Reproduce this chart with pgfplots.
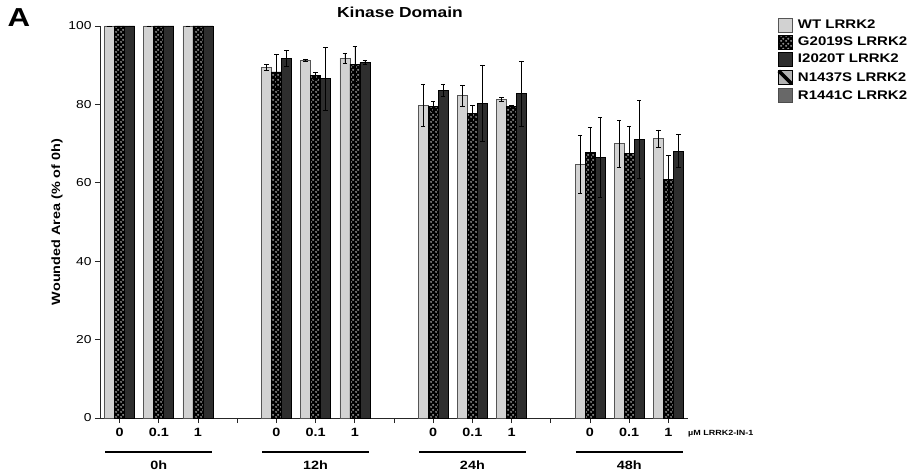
\documentclass[border=0pt]{standalone}
\usepackage{pgfplots}
\pgfplotsset{compat=1.18}
\usepackage{pgfplotstable}
\usepackage{fontspec}
\setmainfont{Liberation Sans}[FakeStretch=1.2]
\usetikzlibrary{patterns.meta}
\definecolor{wtfill}{HTML}{D2D2D2}
\definecolor{wtdraw}{HTML}{555555}
\definecolor{ifill}{HTML}{2E2E2E}
\definecolor{dotc}{HTML}{8C8C8C}
\definecolor{rfill}{HTML}{686868}
\tikzdeclarepattern{name=gdots, type=uncolored,
  bounding box={(0pt,0pt) and (5pt,5pt)}, tile size={(5pt,5pt)},
  code={\fill (1.25pt,1.25pt) circle (1.3pt); \fill (3.75pt,3.75pt) circle (1.3pt);}}
\pgfplotsset{sq legend/.style={legend image code/.code={\draw[##1] (0pt,-7pt) rectangle (14pt,7pt);}}}

\pgfplotstableread{
x wt wte g ge i ie
0 100 0 100 0 100 0
1 100 0 100 0 100 0
2 100 0 100 0 100 0
4 89.5 0.7 88.3 4.5 91.7 2.0
5 91.3 0.3 87.3 1.0 86.6 8.0
6 91.8 1.3 90.3 4.6 90.7 0.5
8 79.8 5.3 79.5 1.2 83.6 1.5
9 82.2 2.7 77.7 2.0 80.3 9.8
10 81.2 0.5 79.4 0.3 82.8 8.3
12 64.7 7.5 67.7 6.5 66.4 10.2
13 70.0 6.0 67.5 7.0 71.1 10.0
14 71.3 2.2 60.9 6.0 68.1 4.2
}\data

\begin{document}
\begin{tikzpicture}[font=\fontsize{11.5}{13}\selectfont]
\path[use as bounding box] (-100pt,-54pt) rectangle (811pt,418pt);
\begin{axis}[
  scale only axis, width=588pt, height=392pt,
  xmin=-0.5, xmax=14.5, ymin=0, ymax=100,
  axis x line*=bottom, axis y line*=left,
  axis line style={-, line width=0.8pt, black!85},
  tick align=outside, major tick length=5pt,
  tick style={line width=0.8pt, black!85},
  xtick={0,...,14},
  xticklabels={0,0.1,1,,0,0.1,1,,0,0.1,1,,0,0.1,1},
  xticklabel style={font=\bfseries\fontsize{12}{13}\selectfont, yshift=-2pt},
  yticklabel style={font=\fontsize{11.5}{13}\selectfont},
  ytick={0,20,...,100},
  /pgf/number format/assume math mode=true,
  ylabel={\bfseries Wounded Area (\% of 0h)},
  ylabel style={at={(axis description cs:-0.073,0.5)}, anchor=center, font=\bfseries\fontsize{12}{13}\selectfont},
  ybar=0pt, bar width=10pt,
  clip=false,
  error bars/error bar style={line width=0.6pt, black},
  error bars/error mark options={rotate=90, mark size=2.2pt, line width=0.6pt, black},
  legend style={at={(axis description cs:1.151,1.022)}, anchor=north west, draw=none, fill=none,
    font=\bfseries\fontsize{12.5}{14}\selectfont, row sep=2.6pt, column sep=3pt, inner sep=0pt,
    nodes={inner sep=1.5pt}},
  legend cell align=left,
]
\addplot[fill=wtfill, draw=wtdraw, line width=0.6pt, sq legend,
  error bars/.cd, y dir=both, y explicit]
  table[x=x, y=wt, y error=wte] {\data};
\addlegendentry{WT LRRK2}
\addplot[fill=black, draw=black, line width=0.6pt, postaction={pattern=gdots, pattern color=dotc}, sq legend,
  error bars/.cd, y dir=both, y explicit]
  table[x=x, y=g, y error=ge] {\data};
\addlegendentry{G2019S LRRK2}
\addplot[fill=ifill, draw=black, line width=0.6pt, sq legend,
  error bars/.cd, y dir=both, y explicit]
  table[x=x, y=i, y error=ie] {\data};
\addlegendentry{I2020T LRRK2}
\addlegendimage{legend image code/.code={\fill[gray!60] (0pt,-7pt) rectangle (14pt,7pt);
  \draw[line width=3.5pt, black] (0.5pt,6.5pt) -- (13.5pt,-6.5pt);
  \draw[line width=0.6pt, black] (0pt,-7pt) rectangle (14pt,7pt);}}
\addlegendentry{N1437S LRRK2}
\addlegendimage{legend image code/.code={\draw[fill=rfill, draw=black!70, line width=0.6pt] (0pt,-7pt) rectangle (14pt,7pt);}}
\addlegendentry{R1441C LRRK2}

\draw[line width=1.6pt] ([yshift=-34pt]axis cs:-0.36,0) -- ([yshift=-34pt]axis cs:2.36,0);
\draw[line width=1.6pt] ([yshift=-34pt]axis cs:3.64,0) -- ([yshift=-34pt]axis cs:6.36,0);
\draw[line width=1.6pt] ([yshift=-34pt]axis cs:7.64,0) -- ([yshift=-34pt]axis cs:10.36,0);
\draw[line width=1.6pt] ([yshift=-34pt]axis cs:11.64,0) -- ([yshift=-34pt]axis cs:14.36,0);
\node[font=\bfseries\fontsize{12}{13}\selectfont] at ([yshift=-47pt]axis cs:1,0) {0h};
\node[font=\bfseries\fontsize{12}{13}\selectfont] at ([yshift=-47pt]axis cs:5,0) {12h};
\node[font=\bfseries\fontsize{12}{13}\selectfont] at ([yshift=-47pt]axis cs:9,0) {24h};
\node[font=\bfseries\fontsize{12}{13}\selectfont] at ([yshift=-47pt]axis cs:13,0) {48h};
\node[anchor=west, inner sep=0pt, font=\bfseries\fontsize{7.5}{9}\selectfont] at ([yshift=-16pt]axis cs:14.5,0) {µM LRRK2-IN-1};
\end{axis}
\node[font=\bfseries\fontsize{14.5}{16}\selectfont] at (300pt,406pt) {Kinase Domain};
\node[font=\bfseries\fontsize{26}{28}\selectfont] at (-81pt,400pt) {A};
\end{tikzpicture}
\end{document}
